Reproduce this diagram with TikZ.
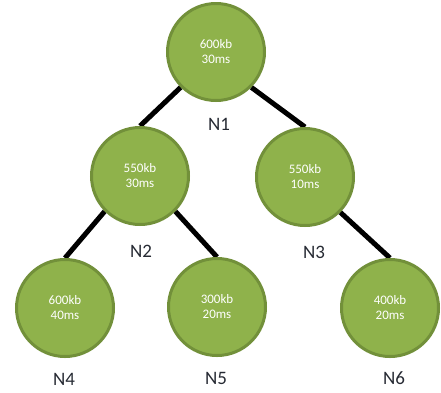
\documentclass[tikz,border=0pt]{standalone}
\usepackage{fontspec}
\setmainfont{Carlito}
\usetikzlibrary{backgrounds}
\definecolor{nodefill}{HTML}{8FB24B}
\definecolor{nodeedge}{HTML}{72903A}
\definecolor{labelcol}{HTML}{262A33}
\tikzset{
  x=1pt, y=-1pt,
  netnode/.style={circle, fill=nodefill, draw=nodeedge, line width=3pt, minimum size=97pt, inner sep=0pt, text=white, font=\fontsize{13}{15}\selectfont, align=center},
  netlabel/.style={text=labelcol, font=\fontsize{19}{21}\selectfont, inner sep=0pt},
  link/.style={line width=5pt, black}
}
\begin{document}
\begin{tikzpicture}
\useasboundingbox (0,0) rectangle (441,392);
\node[netnode] (n1) at (216,52) {600kb\\30ms};
\node[netnode] (n2) at (140,176) {550kb\\30ms};
\node[netnode] (n3) at (305,177) {550kb\\10ms};
\node[netnode] (n4) at (65,308) {600kb\\40ms};
\node[netnode] (n5) at (217,307) {300kb\\20ms};
\node[netnode] (n6) at (390,308) {400kb\\20ms};
\node[netlabel] (l1) at (219,124) {N1};
\node[netlabel] (l2) at (141,251) {N2};
\node[netlabel] (l3) at (314,252) {N3};
\node[netlabel] (l4) at (64,379) {N4};
\node[netlabel] (l5) at (216,378) {N5};
\node[netlabel] (l6) at (394,378) {N6};
\begin{scope}[on background layer]
\draw[link] (n1.south west) -- (n2.north);
\draw[link] (n1.south east) -- (n3.north);
\draw[link] (n2.south west) -- (n4.north);
\draw[link] (n2.south east) -- (n5.north);
\draw[link] (n3.south east) -- (n6.north);
\end{scope}
\end{tikzpicture}
\end{document}
